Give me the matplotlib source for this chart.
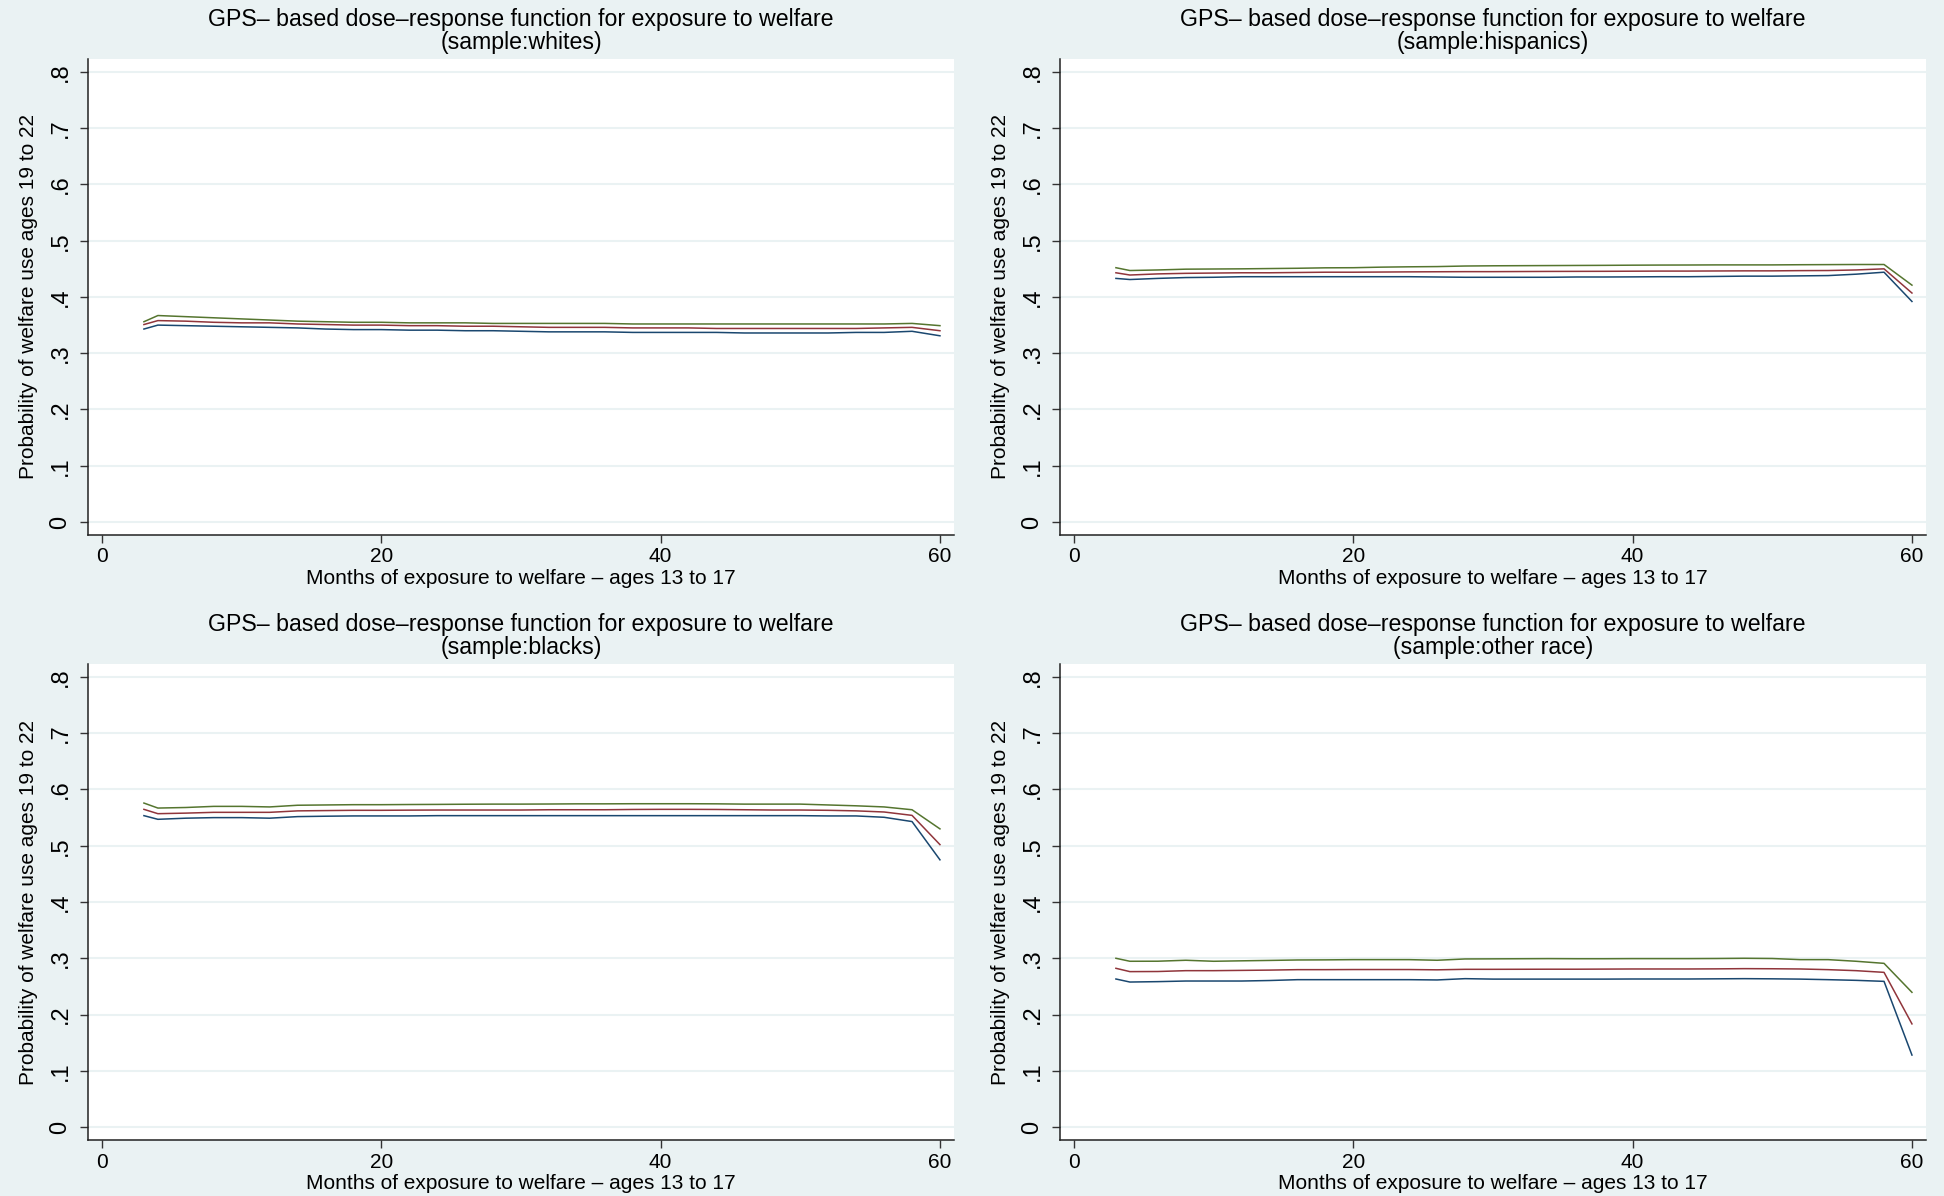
import matplotlib
matplotlib.use("Agg")
from matplotlib import pyplot as plt

# months of exposure (same grid for every sample)
months = [3, 4, 6, 8, 10, 12, 14, 16, 18, 20, 22, 24, 26, 28, 30,
          32, 34, 36, 38, 40, 42, 44, 46, 48, 50, 52, 54, 56, 58, 60]

# whites
whites_lo = [.343, .350, .349, .348, .347, .346, .345, .343, .342, .342, .341, .341, .340, .340, .339,
             .338, .338, .338, .337, .337, .337, .337, .336, .336, .336, .336, .337, .337, .339, .331]
whites_est = [.351, .358, .357, .355, .354, .354, .352, .351, .350, .350, .349, .349, .348, .348, .347,
              .346, .346, .346, .345, .345, .345, .344, .344, .344, .344, .344, .344, .345, .346, .340]
whites_hi = [.356, .367, .365, .363, .361, .359, .357, .356, .355, .355, .354, .354, .354, .353, .353,
             .353, .353, .353, .352, .352, .352, .352, .352, .352, .352, .352, .352, .352, .353, .349]

# hispanics
hisp_lo = [.433, .431, .433, .4345, .435, .436, .436, .436, .436, .436, .436, .436, .4355, .435, .435,
           .435, .435, .4355, .4355, .4357, .436, .436, .4365, .437, .437, .4375, .438, .4405, .444, .392]
hisp_est = [.443, .439, .441, .442, .4425, .443, .443, .4435, .444, .444, .4443, .4446, .4448, .445, .445,
            .4452, .4454, .4455, .4456, .4458, .446, .446, .4462, .4464, .4464, .4468, .447, .448, .450, .407]
hisp_hi = [.452, .447, .448, .4494, .4497, .450, .4505, .451, .4518, .452, .453, .4536, .454, .455, .4554,
           .4556, .4558, .456, .4562, .4565, .4567, .4568, .457, .457, .457, .4573, .4575, .4577, .4577, .421]

# blacks
blacks_lo = [.5535, .547, .549, .550, .550, .549, .5518, .5525, .553, .553, .553, .5535, .5535, .5535, .5535,
             .5535, .5535, .5535, .5535, .5535, .5535, .5535, .5535, .5535, .5535, .553, .553, .5506, .543, .475]
blacks_est = [.5647, .557, .558, .5594, .5594, .5594, .562, .5625, .563, .563, .5633, .5635, .5635, .5635, .5635,
              .564, .564, .564, .5645, .5647, .5647, .5645, .564, .5635, .5635, .563, .562, .560, .554, .502]
blacks_hi = [.5759, .567, .568, .570, .570, .569, .572, .5725, .573, .573, .5733, .5735, .5738, .574, .574,
             .5742, .5745, .5745, .5747, .5747, .5747, .5745, .574, .574, .574, .5725, .571, .569, .564, .530]

# other race
other_lo = [.2632, .2578, .2585, .2596, .2596, .2596, .2605, .262, .262, .262, .262, .262, .2615, .2638, .263,
            .263, .263, .263, .263, .2632, .2632, .2632, .2635, .2638, .2635, .263, .262, .2608, .259, .128]
other_est = [.2822, .2763, .2765, .278, .278, .2785, .279, .2798, .2798, .28, .28, .28, .2795, .2804, .2804,
             .2805, .2806, .2806, .2808, .281, .281, .281, .2812, .2816, .2814, .281, .2798, .278, .275, .1834]
other_hi = [.300, .2947, .2948, .2965, .2947, .2955, .2962, .297, .2972, .2976, .2976, .2976, .2965, .2988, .299,
            .2992, .2994, .2992, .2992, .2994, .2994, .2994, .2996, .300, .2996, .2976, .2976, .2947, .291, .2395]

samples = ["whites", "hispanics", "blacks", "other race"]
series = [(whites_lo, whites_est, whites_hi),
          (hisp_lo, hisp_est, hisp_hi),
          (blacks_lo, blacks_est, blacks_hi),
          (other_lo, other_est, other_hi)]

y_ticks = [0, .1, .2, .3, .4, .5, .6, .7, .8]
y_ticklabels = ["0", ".1", ".2", ".3", ".4", ".5", ".6", ".7", ".8"]
x_ticks = [0, 20, 40, 60]

bg = "#EAF2F3"
line_colors = ["#1A476F", "#90353B", "#55752F"]

plt.rcParams["font.family"] = ["Liberation Sans", "DejaVu Sans"]

fig = plt.figure(figsize=(19.44, 11.96), dpi=100, facecolor=bg)

# panel boxes (left, bottom, width, height) in figure fractions
boxes = [(0.0453, 0.5527, 0.4454, 0.3980),
         (0.5453, 0.5527, 0.4454, 0.3980),
         (0.0453, 0.0468, 0.4454, 0.3980),
         (0.5453, 0.0468, 0.4454, 0.3980)]

for box, name, (lo, est, hi) in zip(boxes, samples, series):
    ax = fig.add_axes(box)
    ax.set_facecolor("white")
    for vals, col in zip((lo, est, hi), line_colors):
        ax.plot(months, vals, color=col, linewidth=1.1, zorder=3)

    ax.set_xlim(-1, 61)
    ax.set_ylim(-0.023, 0.823)
    ax.set_yticks(y_ticks)
    ax.set_yticklabels(y_ticklabels, rotation=90, va="center", fontsize=17)
    ax.set_xticks(x_ticks)
    ax.set_xticklabels([str(t) for t in x_ticks], fontsize=15)
    ax.tick_params(axis="both", direction="out", length=6, width=1, color="#333333")
    ax.tick_params(axis="y", pad=6)
    ax.tick_params(axis="x", pad=3)
    ax.grid(axis="y", color=bg, linewidth=1.5, zorder=0)
    ax.set_axisbelow(True)

    for side in ("top", "right"):
        ax.spines[side].set_visible(False)
    for side in ("left", "bottom"):
        ax.spines[side].set_color("#222222")
        ax.spines[side].set_linewidth(1.1)

    ax.set_title("GPS\u2013 based dose\u2013response function for exposure to welfare\n(sample:" + name + ")",
                 fontsize=16.7, linespacing=1.0, pad=7)
    ax.set_xlabel("Months of exposure to welfare \u2013 ages 13 to 17", fontsize=15, labelpad=2)
    ax.set_ylabel("Probability of welfare use ages 19 to 22", fontsize=15, labelpad=8)

fig.savefig("out.png", dpi=100, facecolor=bg)
